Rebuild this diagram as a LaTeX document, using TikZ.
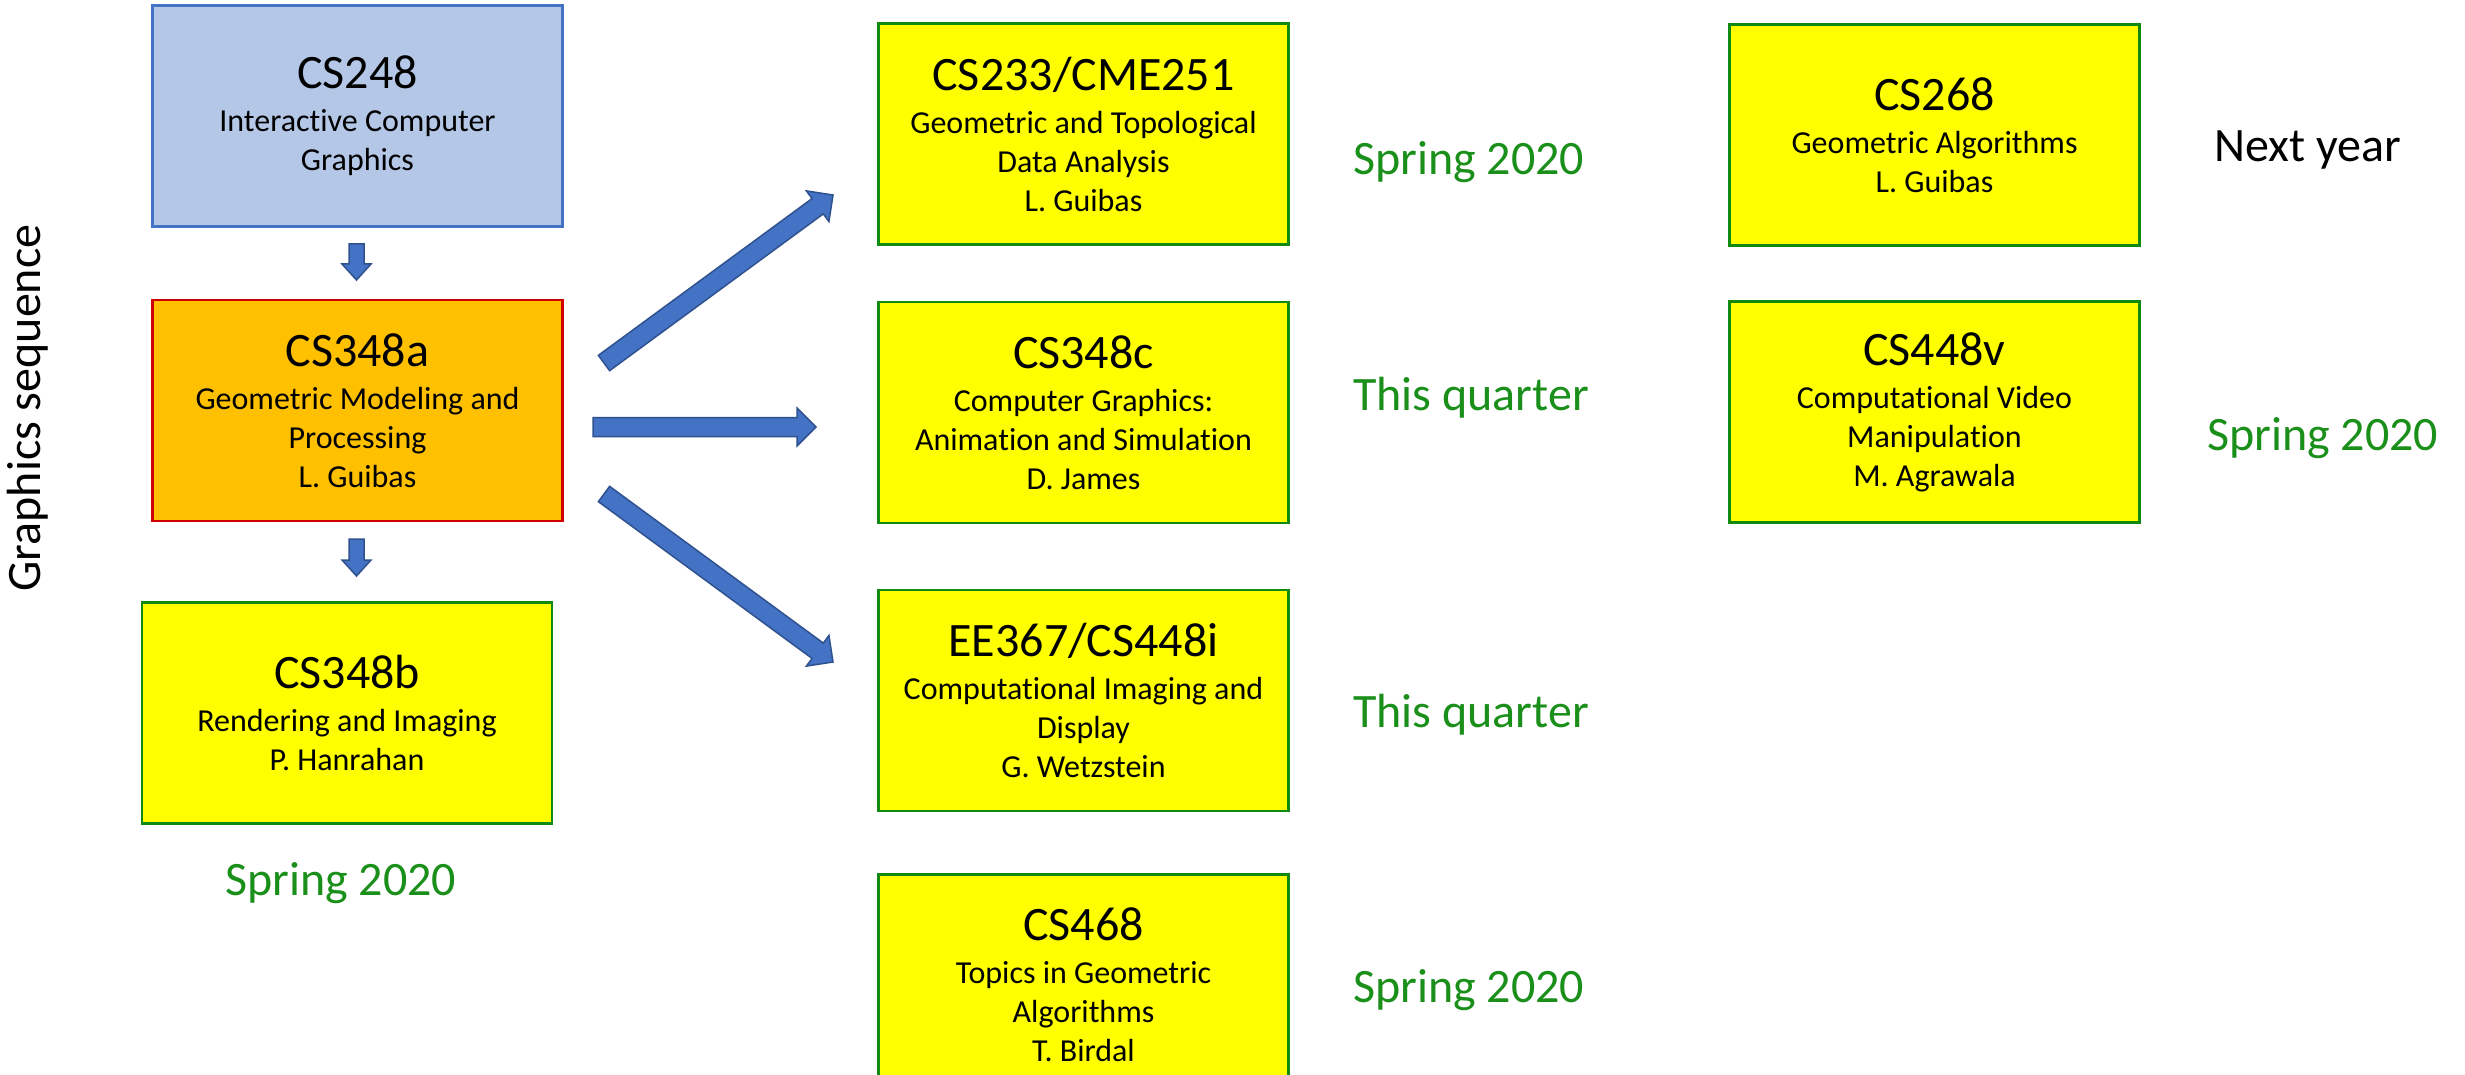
\documentclass[tikz,border=0pt]{standalone}
\usepackage{fontspec}
\setmainfont{Carlito}[Ligatures=NoCommon]
\usetikzlibrary{calc}
\definecolor{boxblue}{HTML}{B4C7E7}
\definecolor{blueline}{HTML}{4472C4}
\definecolor{arrfill}{HTML}{4472C4}
\definecolor{arrline}{HTML}{2F528F}
\definecolor{orangefill}{HTML}{FFC000}
\definecolor{redline}{HTML}{D00000}
\definecolor{greenline}{HTML}{108A10}
\definecolor{greentext}{HTML}{1A8F1A}
\definecolor{boxyellow}{HTML}{FFFF00}
\newcommand{\crs}[2]{{\fontsize{48}{50}\selectfont\spaceskip=\fontdimen2\font\relax #1\par}\vspace{4pt}{\fontsize{32}{39}\selectfont\spaceskip=\fontdimen2\font\relax\xspaceskip=\fontdimen2\font\relax #2\par}}
\newcommand{\blockarr}[5]{%
  \coordinate (#1-h) at ($(#2)!#5!(#1)$);
  \draw[arrline, fill=arrfill, line width=1.5pt, line join=miter]
    ($(#1)!#3!90:(#2)$) -- ($(#1-h)!#3!90:(#2)$) -- ($(#1-h)!#4!90:(#2)$) -- (#2)
    -- ($(#1-h)!#4!-90:(#2)$) -- ($(#1-h)!#3!-90:(#2)$) -- ($(#1)!#3!-90:(#2)$) -- cycle;}
\tikzset{
  course/.style={draw=greenline, fill=boxyellow, line width=2.5pt, minimum width=410pt,
    minimum height=221pt, text width=400pt, align=center, inner sep=0pt},
  when/.style={anchor=base west, inner sep=0pt, text=greentext, font=\fontsize{48}{58}\selectfont},
}
\begin{document}
\begin{tikzpicture}[x=1pt,y=-1pt]
\path[use as bounding box, clip] (0,0) rectangle (2465,1075);
\fill[white] (0,0) rectangle (2465,1075);

\node[course, draw=blueline, fill=boxblue] (cs248) at (357.5,116) {\crs{CS248}{Interactive Computer\\Graphics}};
\node[course, draw=redline, fill=orangefill] (cs348a) at (357.5,410.5) {\crs{CS348a}{Geometric Modeling and\\Processing\\L. Guibas}};
\node[course] (cs348b) at (347,713) {\crs{CS348b}{Rendering and Imaging\\P. Hanrahan}};

\node[course] (cs233) at (1083.5,134) {\crs{CS233/CME251}{Geometric and Topological\\Data Analysis\\L. Guibas}};
\node[course] (cs348c) at (1083.5,412.5) {\crs{CS348c}{Computer Graphics:\\Animation and Simulation\\D. James}};
\node[course] (ee367) at (1083.5,700.5) {\crs{EE367/CS448i}{Computational Imaging and\\Display\\G. Wetzstein}};
\node[course] (cs468) at (1083.5,985) {\crs{CS468}{Topics in Geometric\\Algorithms\\T. Birdal}};

\node[course] (cs268) at (1934.5,135) {\crs{CS268}{Geometric Algorithms\\L. Guibas}};
\node[course] (cs448v) at (1934.5,412) {\crs{CS448v}{Computational Video\\Manipulation\\M. Agrawala}};

\node[when] (w1) at (1353,175) {Spring 2020};
\node[when] (w2) at (1353,410) {This quarter};
\node[when] (w3) at (1353,727) {This quarter};
\node[when] (w4) at (1353,1002) {Spring 2020};
\node[when, text=black] (w5) at (2214,162) {Next year};
\node[when] (w6) at (2207,450) {Spring 2020};
\node[when] (w7) at (225,895) {Spring 2020};

\node[rotate=90, inner sep=0pt, font=\fontsize{48}{58}\selectfont] (seq) at (28,408) {Graphics sequence};

\coordinate (s1s) at (356.5,244); \coordinate (s1e) at (356.5,280);
\coordinate (s2s) at (356.5,539); \coordinate (s2e) at (356.5,576);
\blockarr{s1s}{s1e}{7.5pt}{14.5pt}{16pt}
\blockarr{s2s}{s2e}{7.5pt}{14.5pt}{16pt}

\coordinate (a1s) at (604,363); \coordinate (a1e) at (833,195);
\coordinate (a2s) at (593,427); \coordinate (a2e) at (816,427);
\coordinate (a3s) at (604,494); \coordinate (a3e) at (833,662);
\blockarr{a1s}{a1e}{9.5pt}{19pt}{19pt}
\blockarr{a2s}{a2e}{9.5pt}{19pt}{19pt}
\blockarr{a3s}{a3e}{9.5pt}{19pt}{19pt}
\end{tikzpicture}
\end{document}
